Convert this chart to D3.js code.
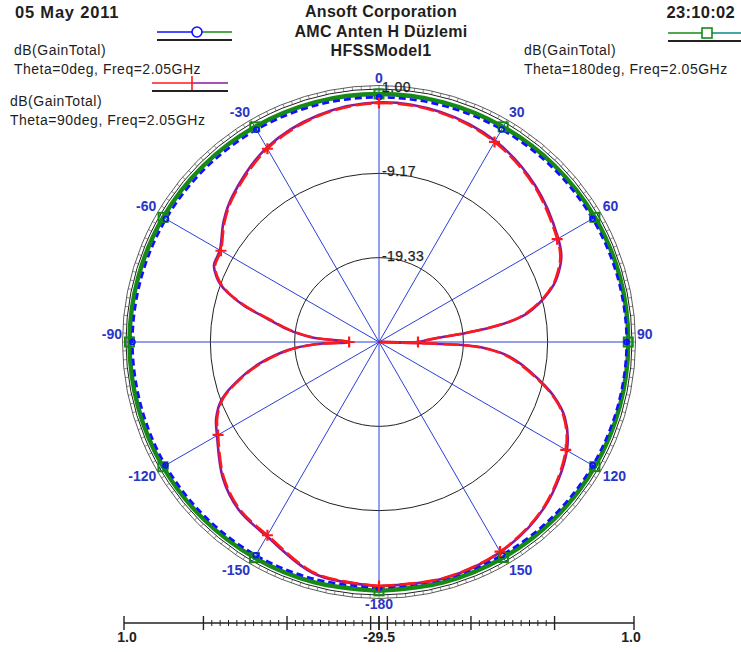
<!DOCTYPE html>
<html>
<head>
<meta charset="utf-8">
<script src="https://cdn.jsdelivr.net/npm/d3@7"></script>
<style>
  html, body { margin: 0; padding: 0; background: #ffffff; }
  svg { display: block; font-family: "Liberation Sans", Arial, sans-serif; }
</style>
</head>
<body>
<svg id="chart" width="741" height="652"></svg>
<script>
// ---------------- DATA ----------------
const titleLines = ["Ansoft Corporation", "AMC Anten H Düzlemi", "HFSSModel1"];
const dateText = "05 May 2011";
const timeText = "23:10:02";

const rMinDb = -29.5;
const rMaxDb = 1.0;
const ringValues = [-19.33, -9.17, 1.00];
const ringLabels = ["-19.33", "-9.17", "1.00"];

const spokeAngles = [0, 30, 60, 90, 120, 150, 180, -150, -120, -90, -60, -30];
const spokeLabels = ["0", "30", "60", "90", "120", "150", "-180", "-150", "-120", "-90", "-60", "-30"];

// bottom scale (mirrored dB scale)
const scaleEndLabels = ["1.0", "-29.5", "1.0"];
const scaleMajorTicks = [-28.5, -18.5, -8.5];
const scaleMinorTicks = [-27.5, -26.5, -25.5, -24.5, -23.5, -22.5, -21.5, -20.5, -19.5,
                         -17.5, -16.5, -15.5, -14.5, -13.5, -12.5, -11.5, -10.5, -9.5];

// Trace: dB(GainTotal) Theta=0deg (phi sweep)
const theta0Phi = [-180, -165, -150, -135, -120, -105, -90, -75, -60, -45, -30, -15, 0,
                   15, 30, 45, 60, 75, 90, 105, 120, 135, 150, 165, 180];
const theta0Db  = [0.15, 0.12, 0.18, 0.20, 0.22, 0.20, 0.22, 0.18, 0.15, 0.10, 0.05, 0.02, 0.00,
                   0.02, 0.08, 0.15, 0.22, 0.30, 0.35, 0.30, 0.25, 0.20, 0.15, 0.12, 0.15];

// Trace: dB(GainTotal) Theta=180deg (phi sweep)
const theta180Phi = [-180, -165, -150, -135, -120, -105, -90, -75, -60, -45, -30, -15, 0,
                     15, 30, 45, 60, 75, 90, 105, 120, 135, 150, 165, 180];
const theta180Db  = [0.50, 0.50, 0.52, 0.55, 0.58, 0.58, 0.58, 0.56, 0.55, 0.50, 0.45, 0.42, 0.40,
                     0.42, 0.45, 0.50, 0.55, 0.58, 0.55, 0.55, 0.55, 0.52, 0.50, 0.50, 0.50];

// Trace: dB(GainTotal) Theta=90deg (phi sweep)
const theta90Phi = [-180, -165, -150, -140, -131, -120, -115, -110, -105, -100, -95, -92, -90,
                    -86, -82, -78, -75, -72, -70, -68, -65, -60, -52, -45, -30, -15, 0,
                    15, 30, 45, 60, 65, 70, 72, 75, 78, 80, 82, 84, 86, 88, 90, 90.6,
                    92, 93, 95, 97, 99, 103, 107, 112, 120, 135, 150, 165, 180];
const theta90Db  = [-0.10, -0.55, -2.60, -3.30, -4.70, -7.10, -8.00, -9.50, -12.20, -15.20, -18.70, -22.00, -25.90,
                    -21.50, -18.50, -15.80, -12.90, -10.50, -9.30, -8.50, -7.70, -7.50, -5.90, -4.70, -2.60, -1.30, -0.70,
                    -0.90, -1.65, -3.00, -4.70, -5.40, -6.80, -7.55, -9.00, -10.80, -12.30, -15.00, -19.00, -22.50, -24.00, -24.80, -40.00,
                    -20.00, -17.40, -15.00, -13.50, -12.30, -10.00, -7.70, -5.50, -3.50, -1.40, -0.33, 0.00, -0.10];
const theta90PurpleDb = [-0.05, -0.45, -2.45, -3.15, -4.55, -6.95, -7.85, -9.35, -12.00, -15.00, -18.50, -21.80, -25.90,
                    -21.30, -18.30, -15.60, -12.70, -10.35, -9.15, -8.35, -7.55, -7.35, -5.75, -4.55, -2.45, -1.20, -0.60,
                    -0.80, -1.50, -2.85, -4.55, -5.25, -6.65, -7.40, -8.85, -10.60, -12.10, -14.80, -18.80, -22.30, -23.80, -24.80, -40.00,
                    -19.80, -17.20, -14.80, -13.30, -12.10, -9.85, -7.55, -5.35, -3.35, -1.30, -0.25, 0.05, -0.05];

const markerPhi = [0, 30, 60, 90, 120, 150, 180, -150, -120, -90, -60, -30];

const legendItems = [
  { line1: "dB(GainTotal)", line2: "Theta=0deg, Freq=2.05GHz" },
  { line1: "dB(GainTotal)", line2: "Theta=90deg, Freq=2.05GHz" },
  { line1: "dB(GainTotal)", line2: "Theta=180deg, Freq=2.05GHz" }
];

// ---------------- LAYOUT ----------------
const svg = d3.select("#chart");
const cx = 379, cy = 342, R = 253;
const colBlue = "#1010ff", colGreen = "#168a16", colRed = "#ff1a1a", colPurple = "#8a1a9a",
      colTeal = "#0a8a8a", colSpoke = "#2c3fd8", colLabel = "#2a35c8", colText = "#1e1e1e";

const rScale = d3.scaleLinear().domain([rMinDb, rMaxDb]).range([0, R]).clamp(true);
const toRad = d => d * Math.PI / 180;

const g = svg.append("g").attr("transform", `translate(${cx},${cy})`);

// outer tick ring
const tickAngles = d3.range(0, 360, 2);
g.append("circle").attr("r", R + 3.5).attr("fill", "none").attr("stroke", "#333").attr("stroke-width", 0.8);
g.selectAll("line.rt").data(tickAngles).join("line")
  .attr("class", "rt")
  .attr("x1", d => R * Math.sin(toRad(d))).attr("y1", d => -R * Math.cos(toRad(d)))
  .attr("x2", d => (R + 3.5) * Math.sin(toRad(d))).attr("y2", d => -(R + 3.5) * Math.cos(toRad(d)))
  .attr("stroke", "#444").attr("stroke-width", 0.6);

// rings
g.selectAll("circle.ring").data(ringValues).join("circle")
  .attr("class", "ring")
  .attr("r", d => rScale(d))
  .attr("fill", "none").attr("stroke", "#222").attr("stroke-width", 1);

// spokes
g.selectAll("line.spoke").data(spokeAngles).join("line")
  .attr("class", "spoke")
  .attr("x1", 0).attr("y1", 0)
  .attr("x2", d => R * Math.sin(toRad(d))).attr("y2", d => -R * Math.cos(toRad(d)))
  .attr("stroke", colSpoke).attr("stroke-width", 1);

// line generator
const radial = d3.lineRadial().curve(d3.curveCatmullRom.alpha(0.5));
const pts = (phis, vals) => phis.map((p, i) => [toRad(p), rScale(vals[i])]);
const interpAt = (phis, vals, a) => {
  for (let i = 0; i < phis.length - 1; i++) {
    if (a >= phis[i] && a <= phis[i + 1]) {
      const t = (a - phis[i]) / (phis[i + 1] - phis[i] || 1);
      return vals[i] + t * (vals[i + 1] - vals[i]);
    }
  }
  return vals[vals.length - 1];
};

// Theta=180 (green thick)
g.append("path").attr("d", radial(pts(theta180Phi, theta180Db)))
  .attr("fill", "none").attr("stroke", colGreen).attr("stroke-width", 4.4);
// Theta=0 (blue dashed)
g.append("path").attr("d", radial(pts(theta0Phi, theta0Db)))
  .attr("fill", "none").attr("stroke", colBlue).attr("stroke-width", 2.6).attr("stroke-dasharray", "7,4");

// Theta=90 purple + red
g.append("path").attr("d", radial(pts(theta90Phi, theta90PurpleDb)))
  .attr("fill", "none").attr("stroke", colPurple).attr("stroke-width", 2.6);
g.append("path").attr("d", radial(pts(theta90Phi, theta90Db)))
  .attr("fill", "none").attr("stroke", colRed).attr("stroke-width", 2.4).attr("stroke-dasharray", "16,5");

// markers
const pos = (a, r) => [r * Math.sin(toRad(a)), -r * Math.cos(toRad(a))];
g.selectAll("rect.m180").data(markerPhi).join("rect")
  .attr("class", "m180")
  .attr("x", d => pos(d, rScale(interpAt(theta180Phi, theta180Db, d)))[0] - 4.5)
  .attr("y", d => pos(d, rScale(interpAt(theta180Phi, theta180Db, d)))[1] - 4.5)
  .attr("width", 9).attr("height", 9)
  .attr("fill", "none").attr("stroke", colGreen).attr("stroke-width", 2);
g.selectAll("circle.m0").data(markerPhi).join("circle")
  .attr("class", "m0")
  .attr("cx", d => pos(d, rScale(interpAt(theta0Phi, theta0Db, d)))[0])
  .attr("cy", d => pos(d, rScale(interpAt(theta0Phi, theta0Db, d)))[1])
  .attr("r", 2.5).attr("fill", "none").attr("stroke", colBlue).attr("stroke-width", 1.6);
const plusPath = (x, y, s) => `M${x - s},${y}H${x + s}M${x},${y - s}V${y + s}`;
g.selectAll("path.m90").data(markerPhi).join("path")
  .attr("class", "m90")
  .attr("d", d => { const p = pos(d, rScale(interpAt(theta90Phi, theta90Db, d))); return plusPath(p[0], p[1], 5.5); })
  .attr("fill", "none").attr("stroke", colRed).attr("stroke-width", 2.2);

// ring labels
g.selectAll("text.rl").data(ringValues).join("text")
  .attr("class", "rl")
  .attr("x", 3).attr("y", d => -rScale(d) + 3)
  .attr("font-size", 14).attr("letter-spacing", 0.4).attr("fill", colText)
  .attr("stroke", colText).attr("stroke-width", 0.25)
  .text((d, i) => ringLabels[i]);

// angle labels: anchored just outside the outer ring, aligned by quadrant
const labelR = R + 3;
g.selectAll("text.al").data(spokeAngles).join("text")
  .attr("class", "al")
  .attr("x", d => {
    const px = labelR * Math.sin(toRad(d));
    if (d === 0 || Math.abs(d) === 180) return px;
    return d > 0 ? px + 2 : px - 1;
  })
  .attr("y", d => {
    const py = -labelR * Math.cos(toRad(d));
    return Math.abs(d) <= 90 ? py - 3 : py + 11;
  })
  .attr("text-anchor", d => (d === 0 || Math.abs(d) === 180) ? "middle" : (d > 0 ? "start" : "end"))
  .attr("font-size", 14).attr("font-weight", "bold").attr("fill", colLabel)
  .text((d, i) => spokeLabels[i]);

// ---------------- HEADER ----------------
svg.append("text").attr("x", 15).attr("y", 18).attr("font-size", 16.5).attr("font-weight", "bold")
  .attr("letter-spacing", 0.8).attr("fill", colText).text(dateText);
svg.append("text").attr("x", 735).attr("y", 18).attr("text-anchor", "end").attr("font-size", 16.5)
  .attr("font-weight", "bold").attr("letter-spacing", 0.3).attr("fill", colText).text(timeText);
svg.selectAll("text.title").data(titleLines).join("text")
  .attr("class", "title")
  .attr("x", cx + 2).attr("y", (d, i) => 17 + i * 19.5)
  .attr("text-anchor", "middle").attr("font-size", 16).attr("font-weight", "bold")
  .attr("letter-spacing", 0.3).attr("fill", colText).text(d => d);

// ---------------- LEGENDS ----------------
function legendSwatch(x1, xm, x2, y, c1, c2, markerType, markerColor) {
  svg.append("line").attr("x1", x1).attr("x2", xm).attr("y1", y).attr("y2", y).attr("stroke", c1).attr("stroke-width", 1.6);
  svg.append("line").attr("x1", xm).attr("x2", x2).attr("y1", y).attr("y2", y).attr("stroke", c2).attr("stroke-width", 1.6);
  svg.append("line").attr("x1", x1).attr("x2", x2).attr("y1", y + 8).attr("y2", y + 8).attr("stroke", "#222").attr("stroke-width", 2.2);
  if (markerType === "circle") {
    svg.append("circle").attr("cx", xm).attr("cy", y).attr("r", 5).attr("fill", "#fff").attr("stroke", markerColor).attr("stroke-width", 1.6);
  } else if (markerType === "square") {
    svg.append("rect").attr("x", xm - 5).attr("y", y - 5).attr("width", 10).attr("height", 10).attr("fill", "#fff").attr("stroke", markerColor).attr("stroke-width", 1.6);
  } else {
    svg.append("path").attr("d", `M${xm},${y - 7}V${y + 7}`).attr("stroke", markerColor).attr("stroke-width", 1.6);
  }
}
legendSwatch(157, 197, 232, 32, colBlue, colGreen, "circle", colBlue);
legendSwatch(152, 192, 228, 83, colRed, colPurple, "plus", colRed);
legendSwatch(668, 707, 741, 33, colGreen, colTeal, "square", colGreen);

const legendPos = [[14, 50], [10, 101], [524, 50]];
legendItems.forEach((it, i) => {
  const [x, y] = legendPos[i];
  svg.append("text").attr("x", x).attr("y", y + 5).attr("font-size", 14).attr("letter-spacing", 0.5)
    .attr("fill", colText).text(it.line1);
  svg.append("text").attr("x", x).attr("y", y + 24).attr("font-size", 14).attr("letter-spacing", 0.5)
    .attr("fill", colText).text(it.line2);
});

// ---------------- BOTTOM SCALE ----------------
const sy = 623;
const sRight = d3.scaleLinear().domain([rMinDb, rMaxDb]).range([cx, cx + R + 2]);
const sLeft = d3.scaleLinear().domain([rMinDb, rMaxDb]).range([cx, cx - R - 2]);
const sg = svg.append("g");
sg.append("line").attr("x1", sLeft(rMaxDb)).attr("x2", sRight(rMaxDb)).attr("y1", sy).attr("y2", sy)
  .attr("stroke", "#222").attr("stroke-width", 1.6);
const majors = [rMaxDb, rMinDb].concat(scaleMajorTicks);
[sLeft, sRight].forEach(sc => {
  sg.selectAll(null).data(majors).join("line")
    .attr("x1", d => sc(d)).attr("x2", d => sc(d)).attr("y1", sy - 7).attr("y2", sy + 7)
    .attr("stroke", "#222").attr("stroke-width", 1.4);
  sg.selectAll(null).data(scaleMinorTicks).join("line")
    .attr("x1", d => sc(d)).attr("x2", d => sc(d)).attr("y1", sy - 3).attr("y2", sy + 3)
    .attr("stroke", "#222").attr("stroke-width", 1);
});
const labelX = [sLeft(rMaxDb) + 3, cx, sRight(rMaxDb) - 3];
sg.selectAll("text.sl").data(scaleEndLabels).join("text")
  .attr("class", "sl")
  .attr("x", (d, i) => labelX[i]).attr("y", 642)
  .attr("text-anchor", "middle").attr("font-size", 14).attr("font-weight", "bold").attr("fill", colText)
  .text(d => d);
</script>
</body>
</html>
